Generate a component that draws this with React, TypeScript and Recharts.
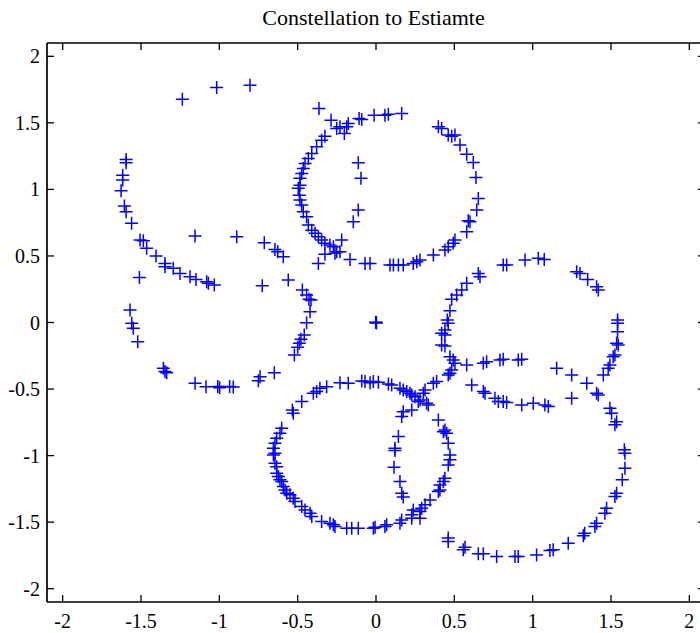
import React from 'react';
import { ScatterChart, Scatter, XAxis, YAxis } from 'recharts';

type Pt = [number, number];

const tickValues = [-2, -1.5, -1, -0.5, 0, 0.5, 1, 1.5, 2];
const titleText = 'Constellation to Estiamte';

const topCircle: Pt[] = [
  [-0.364, 1.608], [-0.287, 1.52], [-0.251, 1.458], [-0.23, 1.47], [-0.202, 1.42], [-0.177, 1.495], [-0.187, 1.47],
  [-0.108, 1.533], [-0.091, 1.526], [-0.012, 1.558], [0.057, 1.558], [0.079, 1.565], [0.164, 1.57], [0.398, 1.47],
  [0.419, 1.458], [0.461, 1.408], [0.483, 1.4], [0.504, 1.408], [0.536, 1.333], [0.579, 1.265], [0.621, 1.203],
  [0.638, 1.09], [0.653, 0.932], [0.643, 0.845], [0.6, 0.757], [0.589, 0.764], [0.579, 0.682], [0.504, 0.619],
  [0.493, 0.595], [0.461, 0.569], [0.44, 0.544], [0.366, 0.507], [0.281, 0.469], [0.26, 0.456], [0.238, 0.444],
  [0.174, 0.432], [0.143, 0.432], [0.111, 0.432], [0.089, 0.432], [-0.038, 0.444], [-0.07, 0.444], [-0.166, 0.474],
  [-0.23, 0.532], [-0.262, 0.52], [-0.326, 0.512], [-0.368, 0.444], [-0.219, 0.619], [-0.251, 0.532], [-0.272, 0.569],
  [-0.294, 0.582], [-0.326, 0.595], [-0.347, 0.619], [-0.368, 0.644], [-0.389, 0.67], [-0.41, 0.694], [-0.432, 0.732],
  [-0.443, 0.794], [-0.464, 0.832], [-0.474, 0.882], [-0.485, 0.92], [-0.489, 0.957], [-0.496, 1.008], [-0.485, 1.032],
  [-0.485, 1.083], [-0.474, 1.12], [-0.464, 1.158], [-0.453, 1.195], [-0.432, 1.233], [-0.41, 1.27], [-0.379, 1.32],
  [-0.347, 1.37], [-0.326, 1.4], [-0.113, 1.2], [-0.096, 1.083], [-0.113, 0.845], [-0.145, 0.757],
];

const upperLeftArc: Pt[] = [
  [-1.236, 1.678], [-1.017, 1.766], [-0.804, 1.783],
  [-1.595, 1.225], [-1.595, 1.2], [-1.617, 1.107], [-1.617, 1.07], [-1.627, 0.99], [-1.606, 0.875], [-1.595, 0.832],
  [-1.56, 0.745], [-1.506, 0.619], [-1.485, 0.614], [-1.464, 0.557], [-1.404, 0.499], [-1.347, 0.444], [-1.347, 0.419],
  [-1.294, 0.407], [-1.251, 0.369], [-1.187, 0.344], [-1.149, 0.324], [-1.081, 0.307], [-1.07, 0.294], [-1.032, 0.282],
  [-1.155, 0.649], [-1.51, 0.339], [-0.889, 0.644], [-0.713, 0.599], [-0.645, 0.549], [-0.627, 0.532], [-0.592, 0.494],
  [-0.726, 0.276], [-0.56, 0.319],
];

const lowerLeftArc: Pt[] = [
  [-1.57, 0.094], [-1.559, -0.006], [-1.549, -0.044], [-1.521, -0.144], [-1.357, -0.344], [-1.347, -0.369],
  [-1.336, -0.377], [-1.155, -0.457], [-1.085, -0.482], [-1.01, -0.48], [-0.998, -0.49], [-0.934, -0.48],
  [-0.911, -0.485], [-0.74, -0.407], [-0.751, -0.437], [-0.649, -0.377],
  [-0.47, 0.244], [-0.443, 0.206], [-0.428, 0.174], [-0.415, 0.169], [-0.421, 0.081], [-0.443, -0.001],
  [-0.458, -0.094], [-0.479, -0.126], [-0.489, -0.156], [-0.5, -0.186], [-0.521, -0.244],
];

const bottomLeftCircle: Pt[] = [
  [-0.534, -0.657], [-0.474, -0.594], [-0.4, -0.532], [-0.379, -0.519], [-0.358, -0.494], [-0.315, -0.482],
  [-0.23, -0.452], [-0.177, -0.456], [-0.091, -0.439], [-0.07, -0.444], [-0.038, -0.452], [-0.017, -0.444],
  [0.015, -0.449], [0.079, -0.462], [0.1, -0.469], [0.153, -0.494], [0.174, -0.507], [0.196, -0.519], [0.217, -0.532],
  [0.228, -0.544], [0.249, -0.557], [0.281, -0.582], [0.27, -0.594],
  [0.323, -0.607], [0.334, -0.619], [0.398, -0.732], [0.44, -0.807], [0.451, -0.832], [0.43, -0.82], [0.461, -0.907],
  [0.472, -0.995], [0.472, -1.032], [0.461, -1.07], [0.44, -1.17], [0.43, -1.195], [0.408, -1.22], [0.408, -1.258],
  [0.398, -1.27], [0.345, -1.333], [0.313, -1.37], [0.292, -1.395], [0.281, -1.42], [0.281, -1.47], [0.238, -1.408],
  [0.228, -1.445], [0.228, -1.47], [0.164, -1.483], [0.153, -1.508], [0.068, -1.52], [0.057, -1.533], [-0.006, -1.538],
  [-0.017, -1.545],
  [-0.528, -0.682], [-0.602, -0.794], [-0.613, -0.832], [-0.634, -0.869], [-0.645, -0.907], [-0.655, -0.944],
  [-0.645, -0.982], [-0.655, -0.995], [-0.645, -1.057], [-0.634, -1.083], [-0.634, -1.132], [-0.623, -1.158],
  [-0.613, -1.182], [-0.602, -1.195], [-0.592, -1.233], [-0.581, -1.258], [-0.57, -1.282], [-0.549, -1.295],
  [-0.528, -1.32], [-0.517, -1.345], [-0.474, -1.383], [-0.453, -1.408], [-0.421, -1.433], [-0.41, -1.458],
  [-0.347, -1.495], [-0.294, -1.508], [-0.272, -1.52], [-0.262, -1.533], [-0.187, -1.545], [-0.155, -1.545],
  [-0.113, -1.545],
];

const bigRightCircle: Pt[] = [
  [0.228, -0.657], [0.174, -0.67], [0.164, -0.707], [0.143, -0.857], [0.121, -0.944], [0.121, -0.962], [0.115, -1.087],
  [0.153, -1.195], [0.164, -1.282], [0.174, -1.312],
  [0.579, -0.319], [0.685, -0.306], [0.706, -0.294], [0.791, -0.282], [0.812, -0.276], [0.908, -0.282], [0.93, -0.276],
  [1.153, -0.344], [1.249, -0.394], [1.345, -0.457], [1.408, -0.532], [1.419, -0.544], [1.493, -0.644], [1.504, -0.682],
  [1.536, -0.745], [1.525, -0.769], [1.585, -0.957], [1.589, -0.982], [1.589, -1.095], [1.572, -1.182], [1.536, -1.282],
  [1.525, -1.308], [1.472, -1.395], [1.461, -1.433], [1.408, -1.508], [1.397, -1.533], [1.332, -1.583], [1.323, -1.603],
  [1.227, -1.658], [1.131, -1.708], [1.11, -1.713], [1.025, -1.746], [0.908, -1.758], [0.887, -1.758], [0.77, -1.758],
  [0.685, -1.738], [0.653, -1.738], [0.568, -1.688], [0.557, -1.708], [0.461, -1.62], [0.461, -1.645],
];

const rightMidCircle: Pt[] = [
  [0.472, 0.089], [0.455, 0.019], [0.461, -0.006], [0.44, -0.056], [0.419, -0.081], [0.44, -0.094], [0.44, -0.176],
  [0.419, -0.169], [0.472, -0.257], [0.493, -0.282], [0.504, -0.306], [0.483, -0.357], [0.472, -0.381], [0.461, -0.394],
  [0.387, -0.444], [0.366, -0.457], [0.313, -0.507], [0.302, -0.532],
  [0.483, 0.174], [0.515, 0.206], [0.547, 0.244], [0.579, 0.294], [0.653, 0.369], [0.664, 0.344], [0.812, 0.432],
  [0.834, 0.432], [0.951, 0.469], [1.036, 0.482], [1.074, 0.474], [1.281, 0.381], [1.302, 0.369], [1.351, 0.324],
  [1.408, 0.269], [1.419, 0.244], [1.542, 0.019], [1.542, -0.006], [1.542, -0.069], [1.536, -0.156], [1.546, -0.169],
  [1.525, -0.244], [1.514, -0.257], [1.493, -0.319], [1.482, -0.344], [1.451, -0.394],
  [0.611, -0.469], [0.685, -0.519], [0.696, -0.532], [0.759, -0.569], [0.781, -0.594], [0.812, -0.594], [0.834, -0.602],
  [0.93, -0.619], [1.004, -0.607], [1.078, -0.619], [1.1, -0.632], [1.249, -0.569],
];

const centerPoints: Pt[] = [[0, 0], [0.003, -0.003], [-0.002, 0.002]];

const allPoints = [
  ...topCircle, ...upperLeftArc, ...lowerLeftArc, ...bottomLeftCircle, ...bigRightCircle, ...rightMidCircle, ...centerPoints,
].map(([x, y]) => ({ x, y }));

const FONT = "'Liberation Serif', 'Times New Roman', serif";
const TICK_LEN = 7;
const FRAME_W = 1.7;

const PlusShape = (p: any) => {
  const { cx, cy } = p;
  if (cx == null || cy == null) return <g />;
  const r = 6.5;
  return (
    <path d={`M${cx - r},${cy}H${cx + r}M${cx},${cy - r}V${cy + r}`} stroke="#0000ff" strokeWidth={1.5} fill="none" />
  );
};

const NoShape = () => <g />;

const BottomTick = (props: any) => {
  const { x, y, payload } = props;
  return (
    <g>
      <line x1={x} y1={y} x2={x} y2={y - TICK_LEN} stroke="#000" strokeWidth={1.3} />
      <text x={x} y={y + 26} textAnchor="middle" fontFamily={FONT} fontSize={20} fill="#000">
        {String(payload.value)}
      </text>
    </g>
  );
};

const TopTick = (props: any) => {
  const { x, y } = props;
  return <line x1={x} y1={y} x2={x} y2={y + TICK_LEN} stroke="#000" strokeWidth={1.3} />;
};

const LeftTick = (props: any) => {
  const { x, y, payload } = props;
  return (
    <g>
      <line x1={x} y1={y} x2={x + TICK_LEN} y2={y} stroke="#000" strokeWidth={1.3} />
      <text x={x - 7} y={y + 7} textAnchor="end" fontFamily={FONT} fontSize={20} fill="#000">
        {String(payload.value)}
      </text>
    </g>
  );
};

const RightTick = (props: any) => {
  const { x, y } = props;
  return <line x1={x} y1={y} x2={x - TICK_LEN} y2={y} stroke="#000" strokeWidth={1.3} />;
};

export default function App() {
  return (
    <div style={{ position: 'absolute', left: 0, top: 0, width: 700, height: 633, overflow: 'hidden', background: '#fff' }}>
      <div
        style={{
          position: 'absolute', left: 0, top: 5, width: 747, textAlign: 'center',
          fontFamily: FONT, fontSize: 22, lineHeight: '26px', color: '#000',
        }}
      >
        {titleText}
      </div>
      <ScatterChart width={720} height={633} margin={{ top: 42, right: 14, bottom: 0, left: 0 }}>
        <XAxis
          xAxisId="b" type="number" dataKey="x" domain={[-2.1, 2.1]} ticks={tickValues} allowDataOverflow
          orientation="bottom" height={31} tickSize={0} tickMargin={0} tickLine={false}
          axisLine={{ stroke: '#000', strokeWidth: FRAME_W }} tick={<BottomTick />} interval={0}
        />
        <XAxis
          xAxisId="t" type="number" dataKey="x" domain={[-2.1, 2.1]} ticks={tickValues} allowDataOverflow
          orientation="top" height={1} tickSize={0} tickMargin={0} tickLine={false}
          axisLine={{ stroke: '#000', strokeWidth: FRAME_W }} tick={<TopTick />} interval={0}
        />
        <YAxis
          yAxisId="l" type="number" dataKey="y" domain={[-2.1, 2.1]} ticks={tickValues} allowDataOverflow
          orientation="left" width={47} tickSize={0} tickMargin={0} tickLine={false}
          axisLine={{ stroke: '#000', strokeWidth: FRAME_W }} tick={<LeftTick />} interval={0}
        />
        <YAxis
          yAxisId="r" type="number" dataKey="y" domain={[-2.1, 2.1]} ticks={tickValues} allowDataOverflow
          orientation="right" width={1} tickSize={0} tickMargin={0} tickLine={false}
          axisLine={{ stroke: '#000', strokeWidth: FRAME_W }} tick={<RightTick />} interval={0}
        />
        <Scatter xAxisId="b" yAxisId="l" data={allPoints} shape={PlusShape} isAnimationActive={false} />
        <Scatter xAxisId="t" yAxisId="r" data={allPoints} shape={NoShape} isAnimationActive={false} />
      </ScatterChart>
    </div>
  );
}
